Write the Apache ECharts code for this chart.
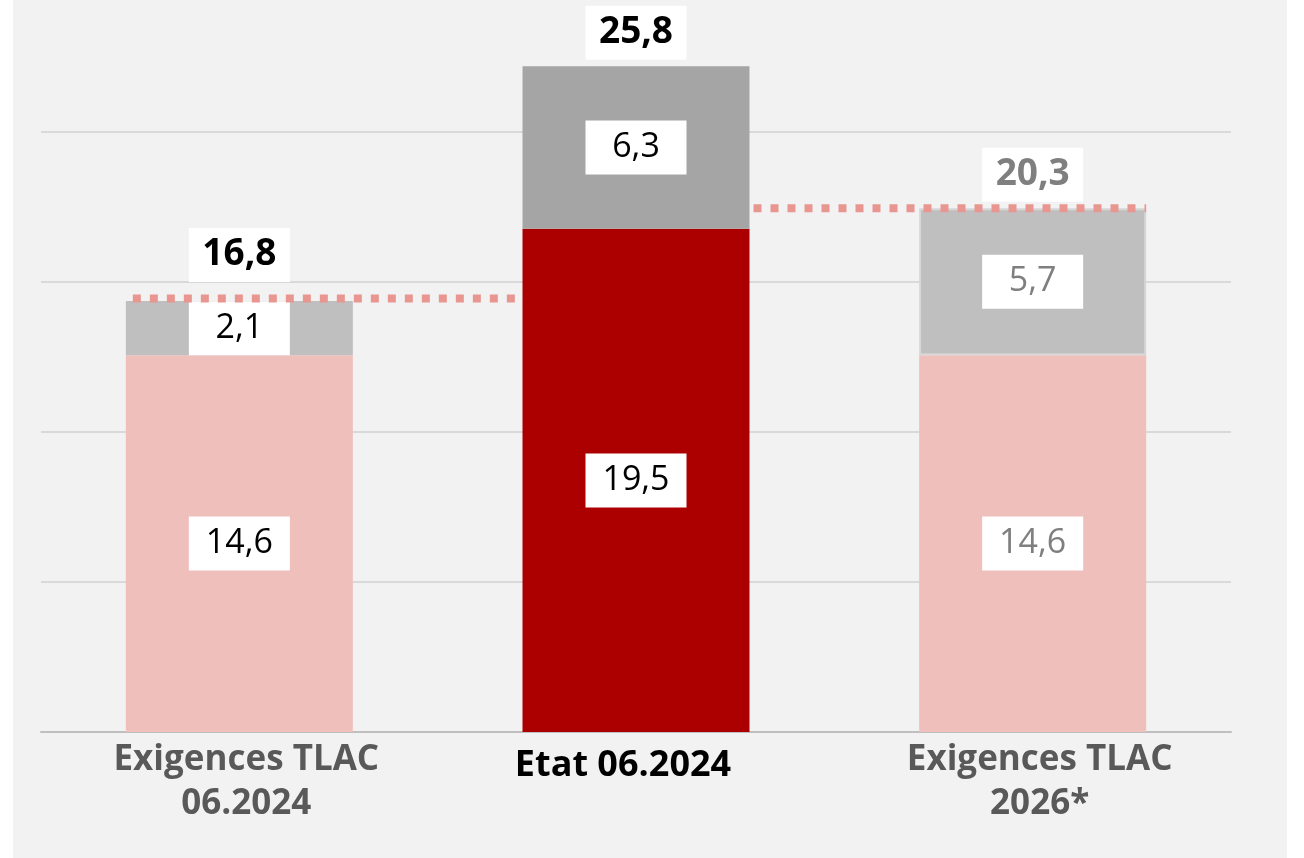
<!DOCTYPE html>
<html>
<head>
<meta charset="utf-8">
<script src="https://cdn.jsdelivr.net/npm/echarts@6/dist/echarts.min.js"></script>
<style>
  html, body { margin: 0; padding: 0; background: #fff; }
  #panel { position: absolute; left: 13px; top: 0; width: 1274px; height: 858px; background: #f2f2f2; }
  #chart { position: absolute; left: 0; top: 0; width: 1304px; height: 858px; }
</style>
</head>
<body>
<div id="panel"></div>
<div id="chart"></div>
<script>
// TLAC — exigences vs état (en %)
const categories = ['Exigences TLAC\n06.2024', 'Etat 06.2024', 'Exigences TLAC\n2026*']
const baseValues = [14.6, 19.5, 14.6]
const bufferValues = [2.1, 6.3, 5.7]
const totals = [16.8, 25.8, 20.3]

const baseColors = ['#efbfbb', '#ac0000', '#efbfbb']
const bufferColors = ['#bfbfbf', '#a5a5a5', '#bfbfbf']
const labelColors = ['#000', '#000', '#7f7f7f']

const fmt = v => String(v).replace('.', ',')
const FONT = 'Open Sans'

const barWidth = 227
const gridLeft = 41, gridRight = 73
const band = (1304 - gridLeft - gridRight) / categories.length
const hb = barWidth / band / 2

const boxLabel = (color, bold, size) => ({
  show: true,
  position: 'inside',
  color,
  fontFamily: FONT,
  fontSize: size,
  fontWeight: bold ? 'bold' : 'normal',
  backgroundColor: '#fff',
  width: 101,
  height: 54,
  lineHeight: 54,
  align: 'center',
  verticalAlign: 'middle',
  padding: 0,
})

const chart = echarts.init(document.getElementById('chart'))
chart.setOption({
  animation: false,
  grid: { left: gridLeft, right: gridRight, top: 132, bottom: 126 },
  xAxis: [
    {
      type: 'category',
      data: categories,
      axisTick: { show: false },
      axisLine: { lineStyle: { color: '#bfbfbf', width: 2 } },
      axisLabel: {
        interval: 0,
        margin: 6,
        color: '#595959',
        fontFamily: FONT,
        fontWeight: 'bold',
        fontSize: 35,
        lineHeight: 44,
        formatter: (v, i) => i === 1
          ? '{m|' + v + '}'
          : v.split('\n').map(s => '{a|' + s + '}').join('\n'),
        rich: {
          a: { color: '#595959', fontFamily: FONT, fontWeight: 'bold', fontSize: 35, lineHeight: 44, padding: [0, 0, 0, 14] },
          m: { color: '#000', fontFamily: FONT, fontWeight: 'bold', fontSize: 36, lineHeight: 56, padding: [0, 26, 0, 0] },
        },
      },
    },
    { type: 'value', min: 0, max: categories.length, show: false },
  ],
  yAxis: {
    type: 'value',
    min: 0,
    max: 23.25,
    interval: 5.8125,
    axisLabel: { show: false },
    axisLine: { show: false },
    axisTick: { show: false },
    splitLine: { lineStyle: { color: '#d9d9d9', width: 2 } },
  },
  series: [
    {
      type: 'bar',
      stack: 'tlac',
      barWidth,
      clip: false,
      data: baseValues.map((v, i) => ({
        value: v,
        itemStyle: { color: baseColors[i] },
        label: boxLabel(labelColors[i], false, 34),
      })),
      label: { formatter: p => fmt(p.value) },
    },
    {
      type: 'bar',
      stack: 'tlac',
      barWidth,
      clip: false,
      data: bufferValues.map((v, i) => ({
        value: v,
        itemStyle: i === 2
          ? { color: bufferColors[i], borderColor: '#d6d6d6', borderWidth: 2 }
          : { color: bufferColors[i] },
        label: boxLabel(labelColors[i], false, 34),
      })),
      label: { formatter: p => fmt(p.value) },
    },
    {
      type: 'line',
      xAxisIndex: 1,
      symbol: 'none',
      z: 5,
      lineStyle: { color: '#e8968f', width: 8, type: [8, 9], dashOffset: 10, cap: 'butt' },
      data: [[0.5 - hb, totals[0]], [1.5 - hb, totals[0]]],
    },
    {
      type: 'line',
      xAxisIndex: 1,
      symbol: 'none',
      z: 5,
      lineStyle: { color: '#e8968f', width: 8, type: [8, 9], dashOffset: 13, cap: 'butt' },
      data: [[1.5 + hb, totals[2]], [2.5 + hb, totals[2]]],
    },
    {
      type: 'scatter',
      symbolSize: 1,
      clip: false,
      z: 6,
      itemStyle: { color: 'rgba(0,0,0,0)', opacity: 1 },
      data: totals.map((v, i) => ({
        value: v,
        label: Object.assign(boxLabel(labelColors[i], true, 37), {
          position: 'top',
          verticalAlign: 'bottom',
          distance: i === 0 ? 16 : 6,
        }),
      })),
      label: { formatter: p => fmt(p.value) },
    },
  ],
})
</script>
</body>
</html>
